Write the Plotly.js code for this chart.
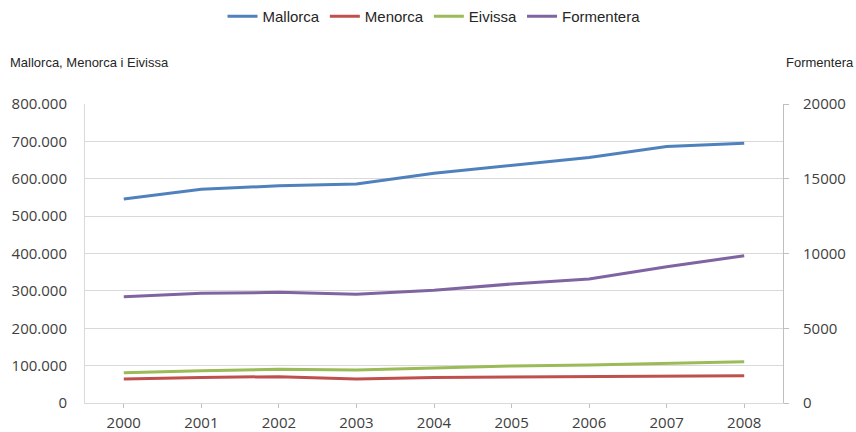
<!DOCTYPE html>
<html><head><meta charset="utf-8">
<script src="https://cdn.plot.ly/plotly-3.0.1.min.js"></script>
<style>body{margin:0;background:#fff}#chart{width:856px;height:432px}</style>
</head><body><div id="chart"></div>
<script>
const years = ['2000','2001','2002','2003','2004','2005','2006','2007','2008'];
const mallorca = [546000, 572000, 581000, 586000, 615000, 635000, 657000, 686000, 695000];
const menorca = [64000, 68500, 70500, 64000, 68500, 69600, 71300, 72200, 73000];
const eivissa = [81000, 86500, 90000, 88000, 93600, 99000, 101700, 106000, 110500];
const formentera = [7110, 7340, 7400, 7270, 7540, 7960, 8290, 9120, 9850];
const leftTicks = [0,100000,200000,300000,400000,500000,600000,700000,800000];
const rightTicks = [0,5000,10000,15000,20000];

const lw = 3;
const traces = [
  {x: years, y: mallorca, name: 'Mallorca', type: 'scatter', mode: 'lines', line: {color: '#4F81BD', width: lw}},
  {x: years, y: menorca, name: 'Menorca', type: 'scatter', mode: 'lines', line: {color: '#C0504D', width: lw}},
  {x: years, y: eivissa, name: 'Eivissa', type: 'scatter', mode: 'lines', line: {color: '#9BBB59', width: lw}},
  {x: years, y: formentera, name: 'Formentera', type: 'scatter', mode: 'lines', yaxis: 'y2', line: {color: '#8064A2', width: lw}}
];
const tickFont = {family: 'Open Sans, sans-serif', size: 15, color: '#404040'};
const labelFont = {family: 'Liberation Sans, Arial, sans-serif', size: 13, color: '#262626'};
const layout = {
  width: 856, height: 432,
  margin: {l: 85, r: 73, t: 104, b: 29},
  separators: ',.',
  paper_bgcolor: '#fff', plot_bgcolor: '#fff',
  showlegend: true,
  legend: {orientation: 'h', x: 0.5, xanchor: 'center', xref: 'paper', y: 1, yref: 'container', yanchor: 'top',
    font: {family: 'Liberation Sans, Arial, sans-serif', size: 15, color: '#262626'}, itemwidth: 30, tracegroupgap: 0},
  xaxis: {type: 'category', range: [-0.5, 8.5], showgrid: false, showline: true, linecolor: '#d9d9d9', linewidth: 1,
    ticks: 'outside', ticklen: 4, tickcolor: '#bfbfbf', tickfont: tickFont, ticklabelstandoff: 2, fixedrange: true},
  yaxis: {range: [0, 800000], tickvals: leftTicks, tickformat: ',d', showgrid: true, gridcolor: '#d9d9d9', gridwidth: 1,
    showline: true, linecolor: '#d9d9d9', ticks: '', tickfont: tickFont, ticklabelstandoff: 14, zeroline: false},
  yaxis2: {range: [0, 20000], tickvals: rightTicks, tickformat: 'd', overlaying: 'y', side: 'right', showgrid: false,
    showline: true, linecolor: '#bfbfbf', ticks: 'outside', ticklen: 5, tickcolor: '#bfbfbf', tickfont: tickFont, ticklabelstandoff: 11, zeroline: false},
  annotations: [
    {text: 'Mallorca, Menorca i Eivissa', xref: 'paper', yref: 'paper', x: 0, y: 0, showarrow: false,
      xanchor: 'left', yanchor: 'middle', font: labelFont},
    {text: 'Formentera', xref: 'paper', yref: 'paper', x: 0, y: 0, showarrow: false,
      xanchor: 'right', yanchor: 'middle', font: labelFont}
  ]
};
// position axis-title annotations in pixels relative to plot area
const plotW = 856 - 85 - 73, plotH = 432 - 104 - 29;
layout.annotations[0].x = (8 - 85) / plotW; layout.annotations[0].y = (403 - 62) / plotH;
layout.annotations[1].x = (856 - 85) / plotW; layout.annotations[1].y = (403 - 62) / plotH;
Plotly.newPlot('chart', traces, layout, {displayModeBar: false, staticPlot: true});
</script></body></html>
